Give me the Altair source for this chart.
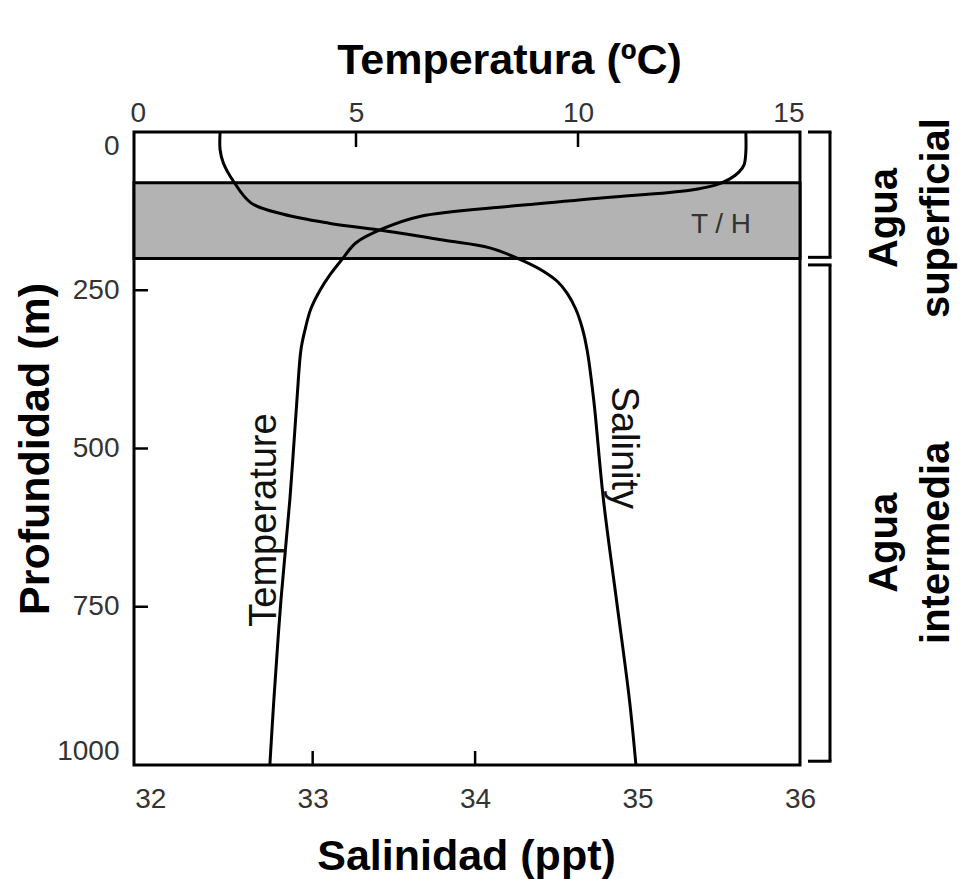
import altair as alt
import pandas as pd

# ---------------- data ----------------
temp_depth = [0, 32, 52, 63, 74, 84, 92, 104, 117, 133, 152, 175, 199, 225, 250, 280, 313, 344, 423, 581, 739, 897, 1000]
temp_value = [13.78, 13.78, 13.74, 13.63, 13.42, 13.09, 12.52, 10.59, 8.51, 6.46, 5.63, 5.0, 4.71,
              4.42, 4.19, 3.98, 3.85, 3.76, 3.67, 3.51, 3.31, 3.15, 3.06]

sal_depth = [0, 28, 49, 77, 112, 130, 144, 156, 171, 183, 204, 220, 237, 256, 280, 310, 345, 423, 581, 739, 897, 1000]
sal_value = [32.43, 32.43, 32.45, 32.51, 32.62, 32.82, 33.10, 33.44, 33.81, 34.09, 34.30, 34.42,
             34.51, 34.57, 34.62, 34.66, 34.69, 34.73, 34.79, 34.87, 34.95, 34.99]

depth_labels = [0, 250, 500, 750, 1000]
depth_inner_ticks = [250, 500, 750]
temp_labels = [0, 5, 10, 15]
temp_inner_ticks = [5, 10]
sal_labels = [32, 33, 34, 35, 36]
sal_inner_ticks = [33, 34]

band_top = [80]
band_bottom = [200]

zone_start = [0, 210]
zone_end = [198, 994]
zone_center = [136, 649]
zone_names = ["Agua\nsuperficial", "Agua\nintermedia"]

# ---------------- layout ----------------
W, H = 666, 633
FONT = "Liberation Sans"

yscale = alt.Scale(domain=[0, 1000], reverse=True, nice=False, zero=False)
yaxis = alt.Axis(title="Profundidad (m)", values=depth_labels, format="d", labelFlush=True, labelPadding=15,
                 titleX=-99, titleY=H / 2, titleAngle=270, titleBaseline="middle", titleAlign="center")


def Y(field):
    return alt.Y(f"{field}:Q", scale=yscale, axis=yaxis)


tscale = alt.Scale(domain=[0, 15], nice=False, zero=False)
taxis = alt.Axis(orient="top", title="Temperatura (ºC)", values=temp_labels, format="d", labelFlush=True,
                 labelFlushOffset=4, labelPadding=5, titleX=375, titleY=-72, titleBaseline="middle",
                 titleAlign="center", titleAngle=0)

sscale = alt.Scale(domain=[31.9, 36], nice=False, zero=False)
saxis = alt.Axis(orient="bottom", title="Salinidad (ppt)", values=sal_labels, format="d", labelFlush=False,
                 labelPadding=20, titleX=332, titleY=91, titleBaseline="middle",
                 titleAlign="center", titleAngle=0)

# band (thermocline / halocline)
band = alt.Chart(pd.DataFrame({"top": band_top, "bottom": band_bottom})).mark_rect(
    fill="#b3b3b3", stroke="black", strokeWidth=3
).encode(y=Y("top"), y2="bottom:Q", x=alt.value(0), x2=alt.value(W))

left_ticks = alt.Chart(pd.DataFrame({"depth": depth_inner_ticks})).mark_rule(
    color="black", strokeWidth=2.5
).encode(y=Y("depth"), x=alt.value(0), x2=alt.value(14))

# brackets on the right
zones = pd.DataFrame({"start": zone_start, "end": zone_end, "center": zone_center, "name": zone_names})
bracket_v = alt.Chart(zones).mark_rule(color="black", strokeWidth=3).encode(
    y=Y("start"), y2="end:Q", x=alt.value(696)
)
stub_top = alt.Chart(zones).mark_rule(color="black", strokeWidth=3).encode(
    y=Y("start"), x=alt.value(674), x2=alt.value(697.5)
)
stub_bot = alt.Chart(zones).mark_rule(color="black", strokeWidth=3).encode(
    y=Y("end"), x=alt.value(674), x2=alt.value(697.5)
)
zone_text = alt.Chart(zones).mark_text(
    angle=270, lineBreak="\n", font=FONT, fontSize=40, fontWeight="bold", lineHeight=52,
    align="center", baseline="middle", color="black"
).encode(y=Y("center"), x=alt.value(751), text="name:N")

# temperature layer (top axis)
temp_df = pd.DataFrame({"depth": temp_depth, "temp": temp_value})
TX = alt.X("temp:Q", scale=tscale, axis=taxis)
temp_line = alt.Chart(temp_df).mark_line(
    color="black", strokeWidth=3, interpolate="catmull-rom"
).encode(x=TX, y=Y("depth"), order="depth:Q")
temp_ticks = alt.Chart(pd.DataFrame({"temp": temp_inner_ticks})).mark_rule(
    color="black", strokeWidth=2.5
).encode(x=TX, y=alt.value(0), y2=alt.value(15))
temp_label = alt.Chart(pd.DataFrame({"temp": [2.95], "depth": [613], "label": ["Temperature"]})).mark_text(
    angle=270, font=FONT, fontSize=38, color="#111", align="center", baseline="middle"
).encode(x=TX, y=Y("depth"), text="label:N")
th_label = alt.Chart(pd.DataFrame({"temp": [13.22], "depth": [147], "label": ["T / H"]})).mark_text(
    font=FONT, fontSize=28, color="#333", align="center", baseline="middle"
).encode(x=TX, y=Y("depth"), text="label:N")
temp_layer = alt.layer(temp_line, temp_ticks, temp_label, th_label)

# salinity layer (bottom axis)
sal_df = pd.DataFrame({"depth": sal_depth, "sal": sal_value})
SX = alt.X("sal:Q", scale=sscale, axis=saxis)
sal_line = alt.Chart(sal_df).mark_line(
    color="black", strokeWidth=3, interpolate="catmull-rom"
).encode(x=SX, y=Y("depth"), order="depth:Q")
sal_ticks = alt.Chart(pd.DataFrame({"sal": sal_inner_ticks})).mark_rule(
    color="black", strokeWidth=2.5
).encode(x=SX, y=alt.value(H), y2=alt.value(H - 14))
sal_label = alt.Chart(pd.DataFrame({"sal": [34.91], "depth": [499], "label": ["Salinity"]})).mark_text(
    angle=90, font=FONT, fontSize=38, color="#111", align="center", baseline="middle"
).encode(x=SX, y=Y("depth"), text="label:N")
sal_layer = alt.layer(sal_line, sal_ticks, sal_label)

chart = alt.layer(
    band, left_ticks, bracket_v, stub_top, stub_bot, zone_text, temp_layer, sal_layer
).resolve_scale(x="independent").properties(
    width=W, height=H,
    autosize=alt.AutoSizeParams(type="none"),
    padding={"left": 134, "top": 132, "right": 164, "bottom": 114},
    background="white",
).configure_view(
    stroke="black", strokeWidth=3
).configure_axis(
    grid=False, domain=False, ticks=False, tickSize=0,
    labelFont=FONT, labelFontSize=28, labelColor="#333",
    titleFont=FONT, titleFontSize=43, titleFontWeight="bold", titleColor="black",
)

chart.save("out.html", embed_options={"renderer": "svg", "actions": False})
